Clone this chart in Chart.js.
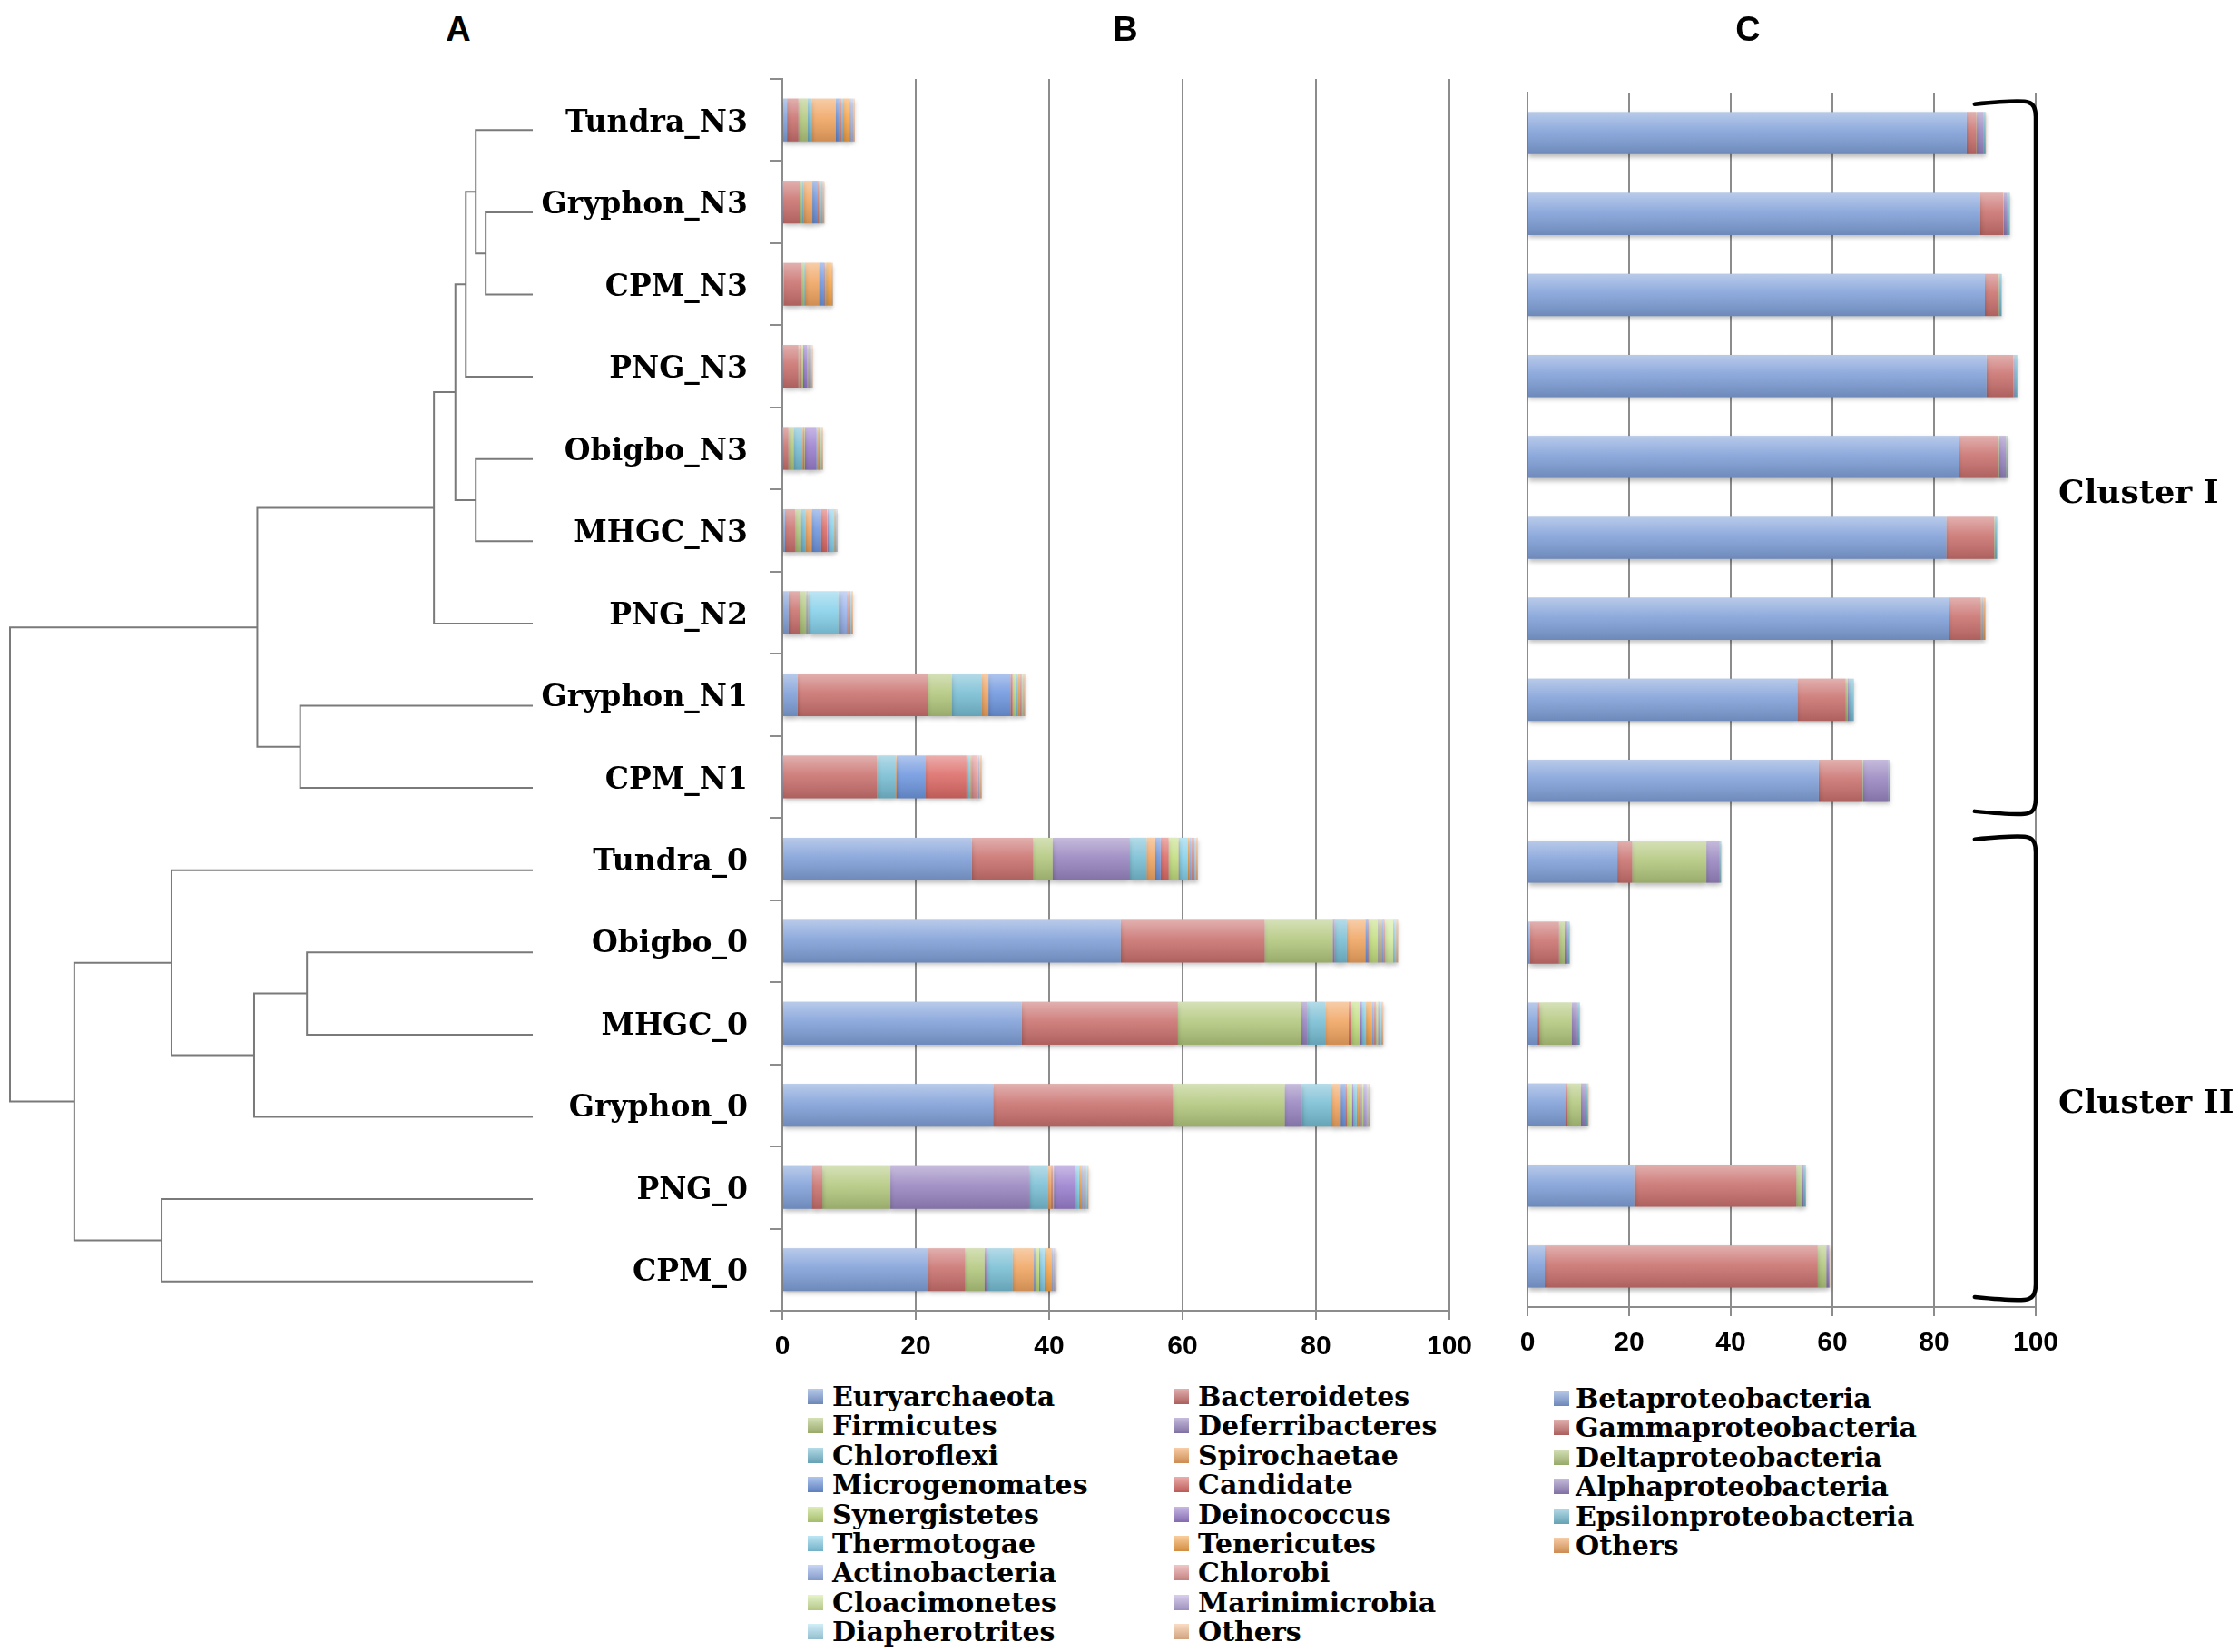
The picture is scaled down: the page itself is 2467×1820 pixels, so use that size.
<!DOCTYPE html>
<html>
<head>
<meta charset="utf-8">
<script src="https://cdn.jsdelivr.net/npm/chart.js@4/dist/chart.umd.min.js"></script>
<style>
body { margin: 0; background: #fff; }
#page { position: relative; width: 2467px; height: 1820px; overflow: hidden; }
canvas { position: absolute; }
.panel { position: absolute; font: bold 38px "Liberation Sans", Arial, sans-serif; transform: translate(-50%, -50%); }
.leg { position: absolute; font: bold 30px "DejaVu Serif", serif; white-space: nowrap; line-height: 30px; height: 30px; }
.leg i { position: absolute; left: 0; top: 6px; width: 17px; height: 17px; }
</style>
</head>
<body>
<div id="page">
  <canvas id="tree" width="600" height="1359" style="left:0;top:98px"></canvas>
  <canvas id="chartB" width="1100" height="1520" style="left:560px;top:0"></canvas>
  <canvas id="chartC" width="827" height="1520" style="left:1640px;top:0"></canvas>
  <div class="panel" style="left:505px;top:32px">A</div>
  <div class="panel" style="left:1240px;top:32px">B</div>
  <div class="panel" style="left:1926px;top:32px">C</div>
</div>
<script>
const samples = ['Tundra_N3', 'Gryphon_N3', 'CPM_N3', 'PNG_N3', 'Obigbo_N3', 'MHGC_N3', 'PNG_N2',
  'Gryphon_N1', 'CPM_N1', 'Tundra_0', 'Obigbo_0', 'MHGC_0', 'Gryphon_0', 'PNG_0', 'CPM_0'];
const xTicks = [0, 20, 40, 60, 80, 100];

// dendrogram (A): each merge joins two nodes (leaf index or earlier merge id = 15 + k) at a height
const mergeLeft   = [1, 0, 16, 4, 17, 19, 7, 20, 10, 23, 9, 13, 25, 22];
const mergeRight  = [2, 15, 3, 5, 18, 6, 8, 21, 11, 12, 24, 14, 26, 27];
const mergeHeight = [0.09, 0.109, 0.128, 0.109, 0.148, 0.189, 0.445, 0.527, 0.432, 0.533, 0.691, 0.71, 0.877, 1.0];

// panel B: phyla (% of reads)
const phyla = ['Euryarchaeota', 'Bacteroidetes', 'Firmicutes', 'Deferribacteres', 'Chloroflexi', 'Spirochaetae',
  'Microgenomates', 'Candidate', 'Synergistetes', 'Deinococcus', 'Thermotogae', 'Tenericutes',
  'Actinobacteria', 'Chlorobi', 'Cloacimonetes', 'Marinimicrobia', 'Diapherotrites', 'Others'];
const euryarchaeota   = [0.7, 0.1, 0.2, 0.1, 0.1, 0.4, 0.9, 2.3, 0.1, 28.4, 50.7, 35.9, 31.6, 4.4, 21.8];
const bacteroidetes   = [1.7, 2.6, 2.7, 2.3, 0.8, 1.5, 1.7, 19.5, 14.1, 9.2, 21.6, 23.4, 26.9, 1.6, 5.6];
const firmicutes      = [1.4, 0.3, 0.4, 0.1, 0.8, 0.9, 0.9, 3.6, 0.1, 2.9, 10.2, 18.5, 16.8, 10.2, 2.9];
const deferribacteres = [0, 0, 0, 0, 0, 0, 0, 0, 0, 11.6, 0.3, 0.9, 2.6, 20.8, 0.3];
const chloroflexi     = [0.6, 0.2, 0.1, 0, 1.3, 0.7, 0.1, 4.5, 2.7, 2.5, 1.8, 2.7, 4.4, 2.8, 3.9];
const spirochaetae    = [3.6, 1.3, 2.1, 0.1, 0.1, 0.9, 0.1, 1.0, 0.1, 1.3, 2.8, 3.5, 1.4, 0.5, 3.2];
const microgenomates  = [0.5, 0.8, 0.8, 0.1, 0.1, 1.4, 0.05, 3.3, 4.4, 0.8, 0.4, 0.2, 0.7, 0.1, 0.1];
const candidate       = [0.3, 0.1, 0.1, 0.1, 0.1, 0.9, 0.05, 0.3, 6.1, 1.2, 0.1, 0.2, 0.2, 0.1, 0.1];
const synergistetes   = [0.1, 0.1, 0.05, 0.3, 0.1, 0.1, 0.05, 0.5, 0.1, 1.5, 1.4, 1.3, 0.8, 0.2, 0.6];
const deinococcus     = [0.1, 0.1, 0.05, 0.6, 1.7, 0.1, 0.05, 0.1, 0.1, 0.1, 0.1, 0.3, 0.2, 3.2, 0.1];
const thermotogae     = [0.1, 0.2, 0.05, 0.1, 0.2, 0.9, 4.5, 0.2, 0.4, 1.3, 0.3, 0.6, 0.5, 0.6, 0.7];
const tenericutes     = [1.0, 0.1, 0.8, 0.05, 0.1, 0.1, 0.3, 0.2, 0.1, 0.2, 0.2, 0.9, 0.3, 0.3, 1.1];
const actinobacteria  = [0.2, 0.1, 0.05, 0.3, 0.2, 0.05, 1.0, 0.1, 0.1, 0.3, 0.3, 0.3, 0.3, 0.2, 0.1];
const chlorobi        = [0.1, 0.05, 0.05, 0.05, 0.1, 0.05, 0.2, 0.3, 0.9, 0.2, 0.1, 0.3, 0.2, 0.1, 0.1];
const cloacimonetes   = [0.05, 0.05, 0, 0.05, 0.1, 0.05, 0.1, 0.1, 0.1, 0.1, 1.3, 0.3, 0.2, 0.1, 0.1];
const marinimicrobia  = [0.1, 0.05, 0, 0.1, 0.1, 0.05, 0.2, 0.1, 0.1, 0.2, 0.1, 0.2, 0.5, 0.3, 0.1];
const diapherotrites  = [0.1, 0.05, 0.05, 0.1, 0.1, 0.05, 0.1, 0.1, 0.1, 0.2, 0.3, 0.3, 0.2, 0.2, 0.1];
const othersB         = [0.2, 0.1, 0.1, 0.1, 0.1, 0.1, 0.3, 0.2, 0.3, 0.3, 0.3, 0.3, 0.3, 0.2, 0.2];
const phylaValues = [euryarchaeota, bacteroidetes, firmicutes, deferribacteres, chloroflexi, spirochaetae,
  microgenomates, candidate, synergistetes, deinococcus, thermotogae, tenericutes,
  actinobacteria, chlorobi, cloacimonetes, marinimicrobia, diapherotrites, othersB];
const phylaColors = ['#7f9fd8', '#c9706d', '#b2c77c', '#9784bf', '#77bdd4', '#f0a460',
  '#6e96df', '#dc6a66', '#c2dd7e', '#9a7ece', '#85d0ea', '#f6a54a',
  '#9ab4ec', '#e49997', '#d3ea9f', '#b9a8dd', '#abe0f2', '#f5bf94'];

// panel C: proteobacteria classes
const classes = ['Betaproteobacteria', 'Gammaproteobacteria', 'Deltaproteobacteria', 'Alphaproteobacteria',
  'Epsilonproteobacteria', 'Others'];
const betaP    = [86.4, 89.1, 90.0, 90.3, 84.9, 82.4, 82.9, 53.1, 57.3, 17.7, 0.5, 2.0, 7.5, 21.0, 3.4];
const gammaP   = [1.9, 4.5, 2.7, 5.3, 7.8, 9.4, 6.3, 9.5, 8.6, 2.9, 5.7, 0.4, 0.4, 31.9, 53.7];
const deltaP   = [0.1, 0.1, 0.1, 0.1, 0.1, 0.1, 0.3, 0.4, 0.1, 14.6, 1.1, 6.3, 2.6, 1.2, 1.7];
const alphaP   = [1.3, 0.6, 0.1, 0.1, 1.3, 0.1, 0.1, 0.2, 5.0, 2.6, 0.6, 1.1, 1.1, 0.3, 0.5];
const epsilonP = [0.4, 0.5, 0.4, 0.5, 0.1, 0.4, 0.1, 0.9, 0.3, 0.2, 0.3, 0.4, 0.3, 0.3, 0.1];
const othersC  = [0.1, 0.1, 0, 0.1, 0.3, 0, 0.4, 0.1, 0, 0.1, 0.1, 0.1, 0.1, 0.1, 0.1];
const classValues = [betaP, gammaP, deltaP, alphaP, epsilonP, othersC];
const classColors = ['#7f9fd8', '#c9706d', '#b2c77c', '#9784bf', '#77bdd4', '#f0a460'];

const clusterNames = ['Cluster I', 'Cluster II'];
const clusterFirst = [0, 9];
const clusterLast = [8, 14];

const GRID = '#8c8c8c';
const tickFont = { family: 'Liberation Sans', weight: 'bold', size: 30 };

// glossy bars: soft shadow under the stack, light-to-dark sheen on each segment
const gloss = {
  id: 'gloss',
  beforeDatasetsDraw(chart) {
    const c = chart.ctx;
    c.save();
    c.shadowColor = 'rgba(0,0,0,0.28)';
    c.shadowBlur = 5;
    c.shadowOffsetY = 3;
  },
  afterDatasetsDraw(chart) {
    const c = chart.ctx;
    c.restore();
    chart.data.datasets.forEach((ds, i) => {
      chart.getDatasetMeta(i).data.forEach(bar => {
        const p = bar.getProps(['x', 'y', 'base', 'height'], true);
        const w = Math.abs(p.x - p.base);
        if (!(w > 0)) return;
        const t = p.y - p.height / 2;
        const g = c.createLinearGradient(0, t, 0, t + p.height);
        g.addColorStop(0, 'rgba(255,255,255,0.45)');
        g.addColorStop(0.45, 'rgba(255,255,255,0.12)');
        g.addColorStop(1, 'rgba(0,0,0,0.14)');
        c.fillStyle = g;
        c.fillRect(Math.min(p.x, p.base), t, w, p.height);
      });
    });
  }
};

const brackets = {
  id: 'brackets',
  afterDraw(chart) {
    const { ctx, scales: { x, y } } = chart;
    const band = (y.bottom - y.top) / samples.length;
    const xr = x.getPixelForValue(100), xl = x.getPixelForValue(88), r = 16;
    ctx.save();
    ctx.strokeStyle = '#000';
    ctx.lineWidth = 4.5;
    ctx.lineCap = 'round';
    clusterNames.forEach((name, k) => {
      const top = y.getPixelForValue(clusterFirst[k]) - (k ? 0.3 : 0.38) * band;
      const bottom = y.getPixelForValue(clusterLast[k]) + 0.4 * band;
      ctx.beginPath();
      ctx.moveTo(xl, top + 2);
      ctx.quadraticCurveTo(xr - r, top - 3, xr - r / 2, top);
      ctx.quadraticCurveTo(xr, top + 2, xr, top + r);
      ctx.lineTo(xr, bottom - r);
      ctx.quadraticCurveTo(xr, bottom - 2, xr - r / 2, bottom);
      ctx.quadraticCurveTo(xr - r, bottom + 3, xl, bottom - 2);
      ctx.stroke();
      ctx.fillStyle = '#000';
      ctx.font = 'bold 36px "DejaVu Serif"';
      ctx.textAlign = 'left';
      ctx.textBaseline = 'middle';
      ctx.fillText(name, xr + 25, (top + bottom) / 2 + 0.45 * band);
    });
    ctx.restore();
  }
};

// A: dendrogram
const nodeY = samples.map((s, i) => i);
const nodeH = samples.map(() => 0);
const treeSets = [];
mergeLeft.forEach((a, k) => {
  const b = mergeRight[k], h = mergeHeight[k];
  treeSets.push({
    data: [{ x: nodeH[a], y: nodeY[a] }, { x: h, y: nodeY[a] }, { x: h, y: nodeY[b] }, { x: nodeH[b], y: nodeY[b] }],
    showLine: true, borderColor: '#7a7a7a', borderWidth: 2, pointRadius: 0, clip: false
  });
  nodeY.push((nodeY[a] + nodeY[b]) / 2);
  nodeH.push(h);
});

new Chart(document.getElementById('tree'), {
  type: 'scatter',
  data: { datasets: treeSets },
  options: {
    responsive: false, animation: false, devicePixelRatio: 1,
    layout: { padding: { left: 11, right: 13, top: 0, bottom: 0 } },
    plugins: { legend: { display: false }, tooltip: { enabled: false } },
    scales: {
      x: { type: 'linear', min: 0, max: 1, reverse: true, display: false },
      y: { type: 'linear', min: -0.5, max: samples.length - 0.5, reverse: true, display: false }
    }
  }
});

function stackedOptions(yWidth, xHeight, padding, showLabels) {
  return {
    indexAxis: 'y', responsive: false, animation: false, devicePixelRatio: 1,
    layout: { padding: padding },
    plugins: { legend: { display: false }, tooltip: { enabled: false } },
    scales: {
      x: {
        stacked: true, min: 0, max: 100,
        afterBuildTicks: s => { s.ticks = xTicks.map(v => ({ value: v })); },
        ticks: { color: '#000', font: tickFont, padding: 12 },
        grid: { color: GRID, lineWidth: 2, tickLength: 10 },
        border: { color: GRID, width: 2 },
        afterFit: s => { s.height = xHeight; }
      },
      y: {
        stacked: true,
        ticks: { display: showLabels, color: '#000', font: { family: 'DejaVu Serif', weight: 'bold', size: 33 }, padding: 24, labelOffset: 4 },
        grid: { drawOnChartArea: false, drawTicks: showLabels, tickLength: 14, color: GRID, lineWidth: 2 },
        border: { color: GRID, width: 2 },
        afterFit: s => { s.width = yWidth; }
      }
    }
  };
}

// B
new Chart(document.getElementById('chartB'), {
  type: 'bar',
  data: {
    labels: samples,
    datasets: phyla.map((name, i) => ({
      label: name, data: phylaValues[i], backgroundColor: phylaColors[i],
      borderWidth: 0, barPercentage: 0.52, categoryPercentage: 1
    }))
  },
  options: stackedOptions(302, 76, { top: 87, right: 63, left: 0, bottom: 0 }, true),
  plugins: [gloss]
});

// C
new Chart(document.getElementById('chartC'), {
  type: 'bar',
  data: {
    labels: samples,
    datasets: classes.map((name, i) => ({
      label: name, data: classValues[i], backgroundColor: classColors[i],
      borderWidth: 0, barPercentage: 0.52, categoryPercentage: 1
    }))
  },
  options: stackedOptions(43, 80, { top: 102, right: 224, left: 0, bottom: 0 }, false),
  plugins: [gloss, brackets]
});

// legends
const page = document.getElementById('page');
function legendItem(name, color, left, yMid, gap) {
  const d = document.createElement('div');
  d.className = 'leg';
  d.style.left = left + 'px';
  d.style.top = (yMid - 15) + 'px';
  d.style.paddingLeft = gap + 'px';
  const box = document.createElement('i');
  box.style.background = 'linear-gradient(rgba(255,255,255,0.45), rgba(0,0,0,0.15)), ' + color;
  d.appendChild(box);
  d.appendChild(document.createTextNode(name));
  page.appendChild(d);
}
const legendTop = 1539, legendStep = 32.4;
phyla.forEach((name, i) => {
  const col = i % 2, row = Math.floor(i / 2);
  legendItem(name, phylaColors[i], col === 0 ? 890 : 1293, legendTop + row * legendStep, 27);
});
classes.forEach((name, i) => {
  legendItem(name, classColors[i], 1712, legendTop + 2 + i * legendStep, 24);
});
</script>
</body>
</html>
